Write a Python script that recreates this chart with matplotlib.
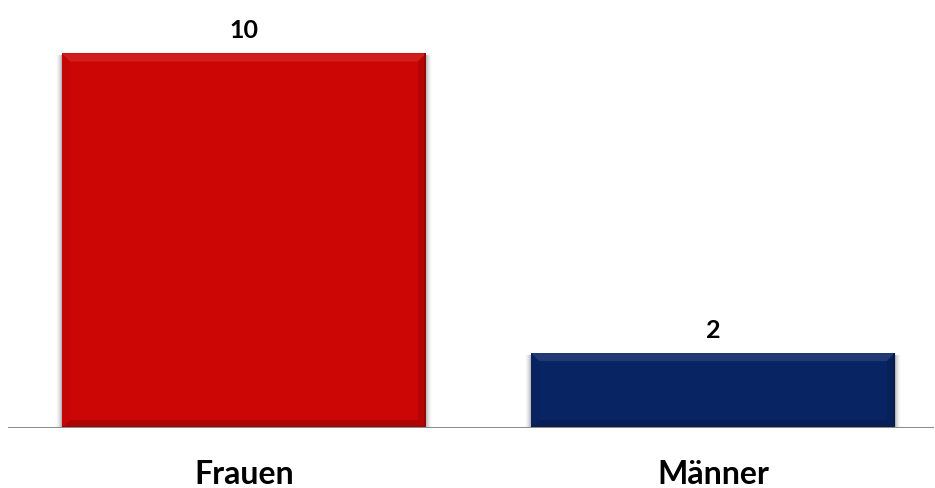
import matplotlib
matplotlib.use("Agg")
import matplotlib.pyplot as plt
from matplotlib.patches import Polygon, Rectangle
import numpy as np

categories = ["Frauen", "Männer"]
values = [10, 2]
colors = ["#CC0605", "#082463"]

W, H = 935, 489
fig = plt.figure(figsize=(W / 100, H / 100), dpi=100)
ax = fig.add_axes([8 / W, (H - 429) / H, (934 - 8) / W, 429 / H])

xlim = (-0.503, 1.471)
ylim = (0, 11.455)
ax.set_xlim(*xlim)
ax.set_ylim(*ylim)

px_x = (xlim[1] - xlim[0]) / (934 - 8)
px_y = (ylim[1] - ylim[0]) / 429

x = np.arange(len(categories))
bar_w = 0.776


def mix(c, other, t):
    c = np.array(matplotlib.colors.to_rgb(c))
    o = np.array(matplotlib.colors.to_rgb(other))
    return tuple(c * (1 - t) + o * t)


def bevel(x0, y0, x1, y1, b, col, zorder):
    bx, by = b * px_x, b * px_y
    quads = [
        ([(x0, y1), (x1, y1), (x1 - bx, y1 - by), (x0 + bx, y1 - by)], mix(col, "white", 0.10)),
        ([(x0, y0), (x0, y1), (x0 + bx, y1 - by), (x0 + bx, y0 + by)], mix(col, "black", 0.04)),
        ([(x1, y0), (x1, y1), (x1 - bx, y1 - by), (x1 - bx, y0 + by)], mix(col, "black", 0.12)),
        ([(x0, y0), (x1, y0), (x1 - bx, y0 + by), (x0 + bx, y0 + by)], mix(col, "black", 0.15)),
    ]
    for pts, fc in quads:
        ax.add_patch(Polygon(pts, closed=True, facecolor=fc, linewidth=0, zorder=zorder))


bars = ax.bar(x, values, width=bar_w, color=colors, zorder=3, linewidth=0)

for bar, col in zip(bars, colors):
    x0, y0 = bar.get_x(), bar.get_y()
    w, h = bar.get_width(), bar.get_height()
    x1, y1 = x0 + w, y0 + h
    # soft side shadow
    for i in range(1, 7):
        a = 0.09 * (1 - i / 7)
        ax.add_patch(Rectangle((x0 - i * px_x, y0), w + 2 * i * px_x, h - 2 * px_y,
                               facecolor="black", alpha=a, linewidth=0, zorder=2))
    # bevelled edges
    bevel(x0, y0, x1, y1, 8, col, 4)
    ax.add_patch(Rectangle((x1 - 2 * px_x, y0), 2 * px_x, h, facecolor=mix(col, "black", 0.25),
                           linewidth=0, zorder=4.5))
    ax.add_patch(Rectangle((x0, y0), w, 2 * px_y, facecolor=mix(col, "black", 0.25),
                           linewidth=0, zorder=4.5))
    ax.text(x0 + w / 2, y1 + 24 * px_y, f"{int(bar.get_height())}",
            ha="center", va="center", fontsize=18, fontweight="bold",
            family="Lato", color="black", zorder=5)

for xi, cat in zip(x, categories):
    ax.text(xi, -46 * px_y, cat, ha="center", va="center", fontsize=23,
            fontweight="bold", family="Lato", color="black")

ax.axhline(0, color="#8C8C8C", linewidth=2.2, zorder=5)
for s in ax.spines.values():
    s.set_visible(False)
ax.set_xticks([])
ax.set_yticks([])
ax.patch.set_alpha(0)

fig.savefig("out.png", dpi=100)
